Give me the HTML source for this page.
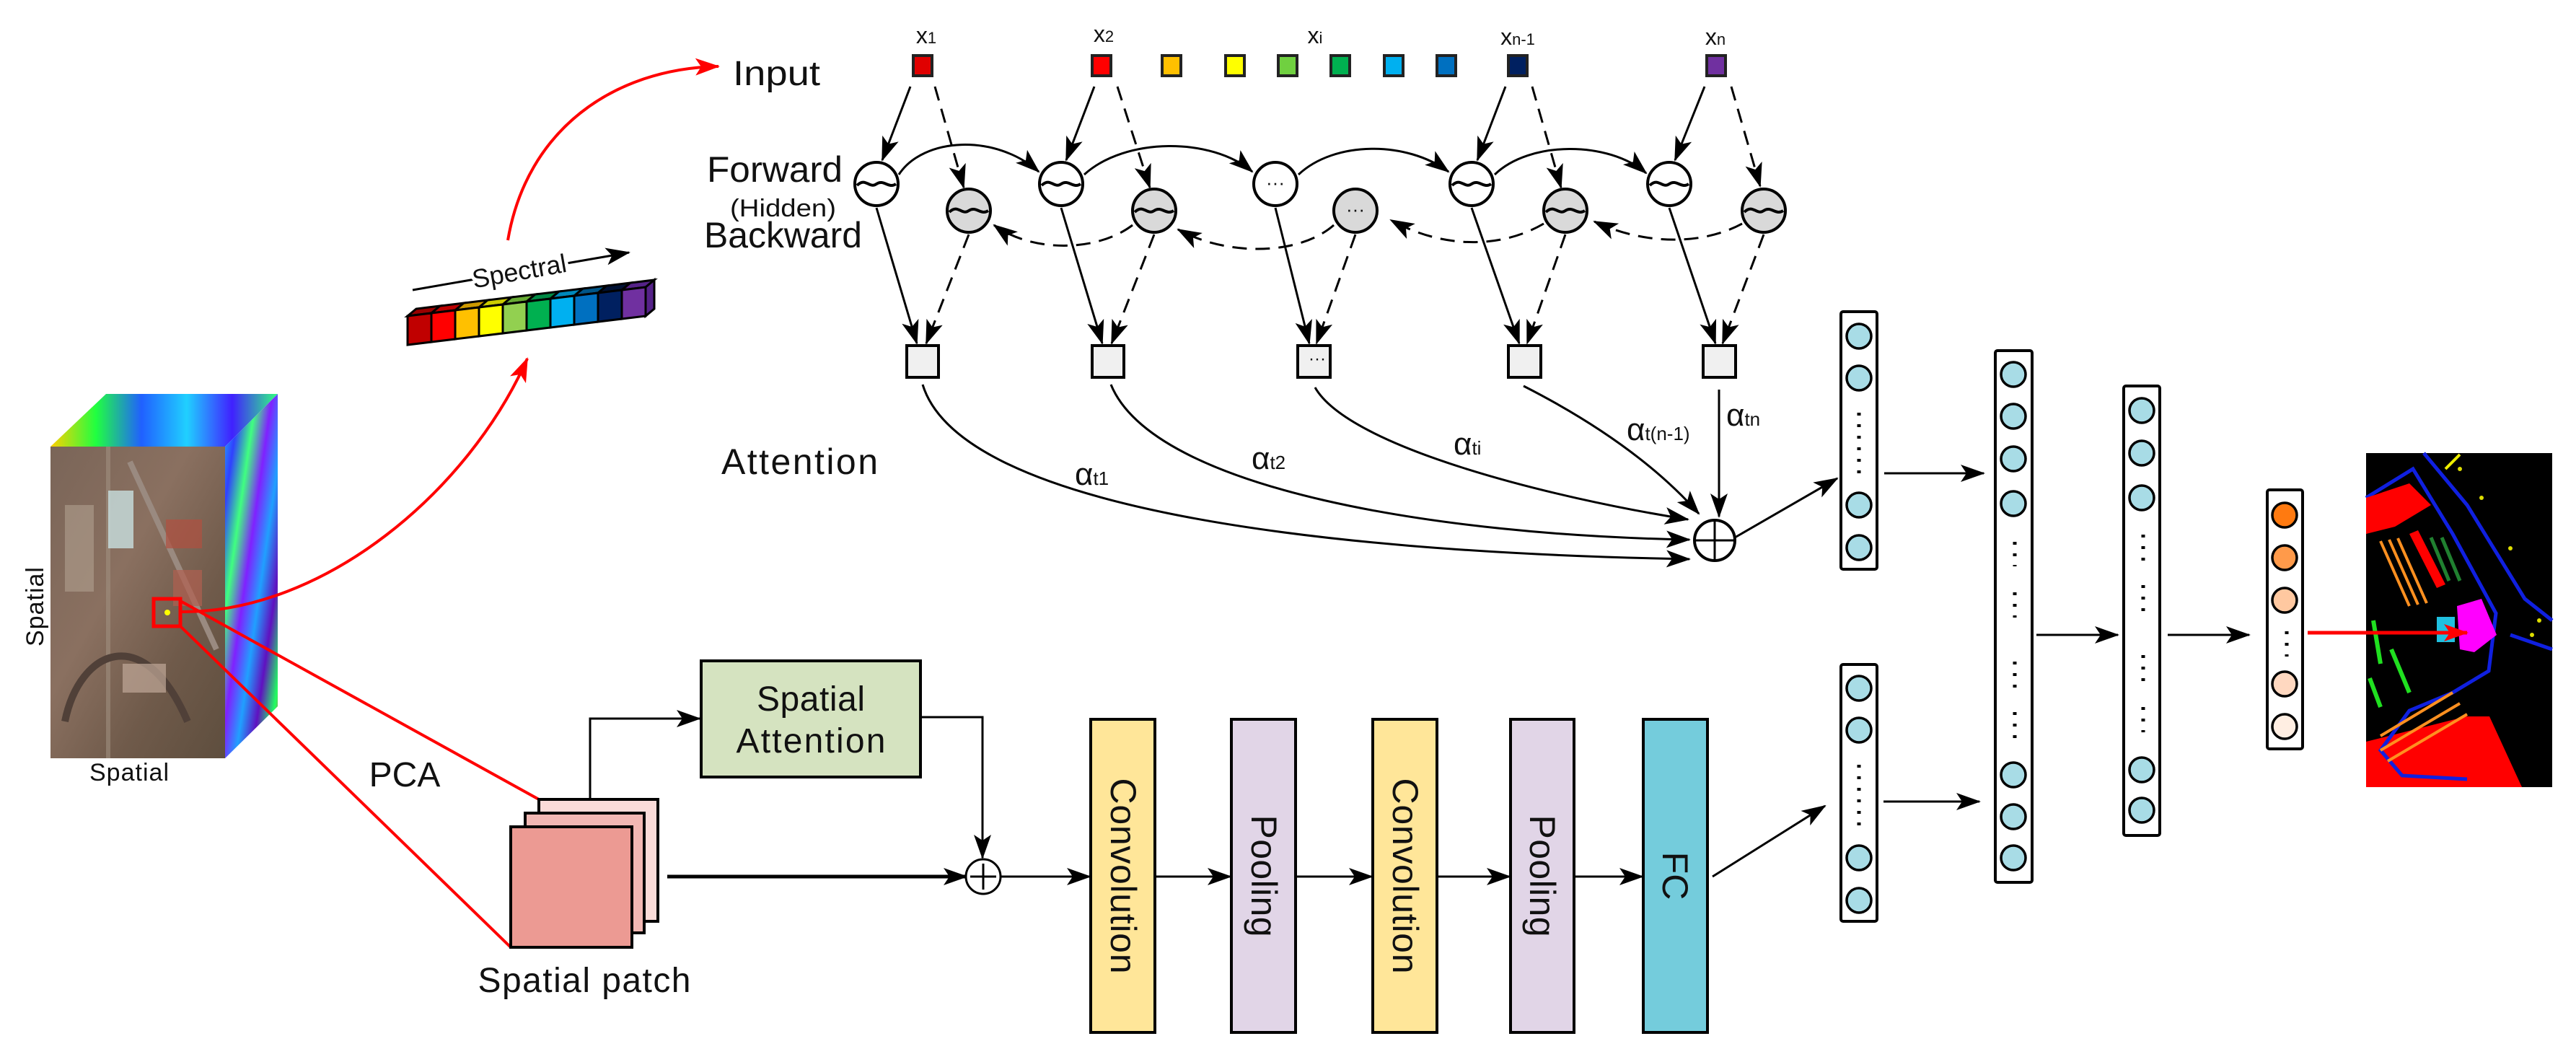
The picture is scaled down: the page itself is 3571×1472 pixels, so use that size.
<!DOCTYPE html>
<html><head><meta charset="utf-8"><style>
html,body{margin:0;padding:0;background:#fff;}
svg{display:block;}
text{font-family:"Liberation Sans",sans-serif;fill:#111;}
</style></head><body>
<svg width="3571" height="1472" viewBox="0 0 3571 1472" xmlns="http://www.w3.org/2000/svg">
<defs>
<marker id="ah" markerWidth="34" markerHeight="24" refX="32" refY="12" orient="auto" markerUnits="userSpaceOnUse"><path d="M0,0 L34,12 L0,24 L8,12 Z" fill="#000"/></marker>
<marker id="ahr" markerWidth="34" markerHeight="24" refX="32" refY="12" orient="auto" markerUnits="userSpaceOnUse"><path d="M0,0 L34,12 L0,24 L8,12 Z" fill="#f00"/></marker>
<linearGradient id="rb" x1="0" y1="0" x2="1" y2="1">
<stop offset="0" stop-color="#20c0ff"/><stop offset="0.15" stop-color="#3040ff"/><stop offset="0.3" stop-color="#40ff80"/><stop offset="0.45" stop-color="#8020ff"/><stop offset="0.6" stop-color="#20a0ff"/><stop offset="0.75" stop-color="#6010c0"/><stop offset="0.9" stop-color="#20ff60"/><stop offset="1" stop-color="#ff4040"/></linearGradient>
<linearGradient id="rb2" x1="0" y1="0" x2="1" y2="0">
<stop offset="0" stop-color="#ffd000"/><stop offset="0.2" stop-color="#20ff40"/><stop offset="0.4" stop-color="#2060ff"/><stop offset="0.6" stop-color="#20d0ff"/><stop offset="0.8" stop-color="#4020ff"/><stop offset="1" stop-color="#30ff80"/></linearGradient>
<linearGradient id="sat" x1="0" y1="0" x2="1" y2="1">
<stop offset="0" stop-color="#7a6558"/><stop offset="0.4" stop-color="#8a7060"/><stop offset="0.7" stop-color="#6f5a4a"/><stop offset="1" stop-color="#5e4e3e"/></linearGradient>
</defs>

<polygon points="70,619 147,546 385,546 312,619" fill="url(#rb2)"/>
<polygon points="312,619 385,546 385,979 312,1051" fill="url(#rb)"/>
<rect x="70" y="619" width="242" height="432" fill="url(#sat)"/>
<path d="M150,619 L150,1051" stroke="#a09080" stroke-width="6" opacity="0.6"/>
<path d="M90,1000 C110,900 200,860 260,1000" stroke="#504038" stroke-width="10" fill="none"/>
<path d="M180,640 L300,900" stroke="#9a8a80" stroke-width="8"/>
<rect x="150" y="680" width="35" height="80" fill="#c8e0e0" opacity="0.8"/>
<rect x="230" y="720" width="50" height="40" fill="#b05040" opacity="0.7"/>
<rect x="240" y="790" width="40" height="50" fill="#b06050" opacity="0.7"/>
<rect x="90" y="700" width="40" height="120" fill="#b0a090" opacity="0.6"/>
<rect x="170" y="920" width="60" height="40" fill="#c0a898" opacity="0.7"/>
<rect x="213" y="830" width="37" height="38" fill="none" stroke="#f00" stroke-width="5"/>
<circle cx="232" cy="849" r="4" fill="#ff0"/>
<text x="179" y="1082" font-size="34" text-anchor="middle" textLength="110">Spatial</text>
<text transform="translate(60,841) rotate(-90)" font-size="34" text-anchor="middle" textLength="110">Spatial</text>

<line x1="250" y1="833" x2="747" y2="1108" stroke="#f00" stroke-width="4"/>
<line x1="250" y1="868" x2="708" y2="1313" stroke="#f00" stroke-width="4"/>
<path d="M250,848 C450,850 650,680 731,497" stroke="#f00" stroke-width="4" fill="none" marker-end="url(#ahr)"/>
<path d="M704,333 C730,180 850,95 996,92" stroke="#f00" stroke-width="4" fill="none" marker-end="url(#ahr)"/>
<text x="561" y="1090" font-size="48" text-anchor="middle">PCA</text>

<g stroke="#000" stroke-width="3">
<polygon points="565,438 577,428 610,424 598,434" fill="#900"/><polygon points="565,438 598,434 598,474 565,478" fill="#c00000"/>
<polygon points="598,434 610,424 643,420 631,430" fill="#b00"/><polygon points="598,434 631,430 631,470 598,474" fill="#ff0000"/>
<polygon points="631,430 643,420 676,416 664,426" fill="#c90"/><polygon points="631,430 664,426 664,466 631,470" fill="#ffc000"/>
<polygon points="664,426 676,416 709,412 697,422" fill="#cc0"/><polygon points="664,426 697,422 697,462 664,466" fill="#ffff00"/>
<polygon points="697,422 709,412 742,408 730,418" fill="#6a3"/><polygon points="697,422 730,418 730,458 697,462" fill="#92d050"/>
<polygon points="730,418 742,408 775,404 763,414" fill="#084"/><polygon points="730,418 763,414 763,454 730,458" fill="#00b050"/>
<polygon points="763,414 775,404 808,400 796,410" fill="#08b"/><polygon points="763,414 796,410 796,450 763,454" fill="#00b0f0"/>
<polygon points="796,410 808,400 841,396 829,406" fill="#058"/><polygon points="796,410 829,406 829,446 796,450" fill="#0070c0"/>
<polygon points="829,406 841,396 874,392 862,402" fill="#013"/><polygon points="829,406 862,402 862,442 829,446" fill="#002060"/>
<polygon points="862,402 874,392 907,388 895,398" fill="#528"/><polygon points="862,402 895,398 895,438 862,442" fill="#7030a0"/>
<polygon points="895,398 907,388 907,428 895,438" fill="#528"/>
</g>
<line x1="572" y1="402" x2="872" y2="350" stroke="#000" stroke-width="3" marker-end="url(#ah)"/>
<text transform="translate(722,388) rotate(-10)" font-size="36" text-anchor="middle" stroke="#fff" stroke-width="10" paint-order="stroke">Spectral</text>

<text x="1016" y="118" font-size="48" textLength="121" lengthAdjust="spacingAndGlyphs">Input</text>
<text x="980" y="252" font-size="50" textLength="188" lengthAdjust="spacingAndGlyphs">Forward</text>
<text x="1012" y="300" font-size="34" textLength="147" lengthAdjust="spacingAndGlyphs">(Hidden)</text>
<text x="976" y="343" font-size="50" textLength="219" lengthAdjust="spacingAndGlyphs">Backward</text>
<text x="1000" y="657" font-size="50" textLength="217">Attention</text>

<g font-size="32" text-anchor="middle">
<text x="1284" y="60">x<tspan font-size="22">1</tspan></text>
<text x="1530" y="58">x<tspan font-size="22">2</tspan></text>
<text x="1823" y="60">x<tspan font-size="22">i</tspan></text>
<text x="2104" y="62">x<tspan font-size="22">n-1</tspan></text>
<text x="2378" y="62">x<tspan font-size="22">n</tspan></text>
</g>
<g stroke="#222" stroke-width="4">
<rect x="1266" y="77" width="26" height="28" fill="#e00000"/>
<rect x="1514" y="77" width="26" height="28" fill="#ff0000"/>
<rect x="1611" y="77" width="26" height="28" fill="#ffc000"/>
<rect x="1699" y="77" width="26" height="28" fill="#ffff00"/>
<rect x="1772" y="77" width="26" height="28" fill="#70d040"/>
<rect x="1845" y="77" width="26" height="28" fill="#00b050"/>
<rect x="1919" y="77" width="26" height="28" fill="#00b0f0"/>
<rect x="1992" y="77" width="26" height="28" fill="#0070c0"/>
<rect x="2091" y="77" width="26" height="28" fill="#002060"/>
<rect x="2366" y="77" width="26" height="28" fill="#7030a0"/>
</g>

<g stroke="#000" stroke-width="3" fill="none">
<line x1="1262" y1="120" x2="1223" y2="222" marker-end="url(#ah)"/>
<line x1="1296" y1="120" x2="1336" y2="260" stroke-dasharray="20,12" marker-end="url(#ah)"/>
<line x1="1517" y1="120" x2="1478" y2="222" marker-end="url(#ah)"/>
<line x1="1549" y1="120" x2="1594" y2="260" stroke-dasharray="20,12" marker-end="url(#ah)"/>
<line x1="2087" y1="120" x2="2048" y2="222" marker-end="url(#ah)"/>
<line x1="2124" y1="120" x2="2164" y2="260" stroke-dasharray="20,12" marker-end="url(#ah)"/>
<line x1="2363" y1="120" x2="2322" y2="222" marker-end="url(#ah)"/>
<line x1="2400" y1="120" x2="2440" y2="258" stroke-dasharray="20,12" marker-end="url(#ah)"/>
<path d="M1246,242 C1280,190 1380,185 1440,238" marker-end="url(#ah)"/>
<path d="M1503,242 C1560,190 1680,190 1736,238" marker-end="url(#ah)"/>
<path d="M1800,242 C1850,195 1950,195 2008,238" marker-end="url(#ah)"/>
<path d="M2072,242 C2120,195 2230,195 2282,240" marker-end="url(#ah)"/>
<g stroke-dasharray="20,12">
<path d="M1570,312 C1520,350 1430,350 1378,312" marker-end="url(#ah)"/>
<path d="M1849,312 C1800,355 1700,355 1633,318" marker-end="url(#ah)"/>
<path d="M2140,310 C2080,345 2000,345 1928,305" marker-end="url(#ah)"/>
<path d="M2415,310 C2360,340 2280,340 2210,307" marker-end="url(#ah)"/>
</g>
<line x1="1215" y1="288" x2="1271" y2="476" marker-end="url(#ah)"/>
<line x1="1343" y1="325" x2="1284" y2="476" stroke-dasharray="20,12" marker-end="url(#ah)"/>
<line x1="1471" y1="288" x2="1528" y2="476" marker-end="url(#ah)"/>
<line x1="1600" y1="325" x2="1541" y2="476" stroke-dasharray="20,12" marker-end="url(#ah)"/>
<line x1="1768" y1="288" x2="1815" y2="476" marker-end="url(#ah)"/>
<line x1="1879" y1="325" x2="1825" y2="476" stroke-dasharray="20,12" marker-end="url(#ah)"/>
<line x1="2040" y1="288" x2="2106" y2="476" marker-end="url(#ah)"/>
<line x1="2170" y1="325" x2="2117" y2="476" stroke-dasharray="20,12" marker-end="url(#ah)"/>
<line x1="2314" y1="288" x2="2378" y2="476" marker-end="url(#ah)"/>
<line x1="2445" y1="325" x2="2388" y2="476" stroke-dasharray="20,12" marker-end="url(#ah)"/>
</g>
<g stroke="#000" stroke-width="4">
<circle cx="1215" cy="255" r="30" fill="#fff"/><circle cx="1471" cy="255" r="30" fill="#fff"/><circle cx="1768" cy="255" r="30" fill="#fff"/><circle cx="2040" cy="255" r="30" fill="#fff"/><circle cx="2314" cy="255" r="30" fill="#fff"/>
<circle cx="1343" cy="292" r="30" fill="#d9d9d9"/><circle cx="1600" cy="292" r="30" fill="#d9d9d9"/><circle cx="1879" cy="292" r="30" fill="#d9d9d9"/><circle cx="2170" cy="292" r="30" fill="#d9d9d9"/><circle cx="2445" cy="292" r="30" fill="#d9d9d9"/>
</g>
<g stroke="#000" stroke-width="4" fill="none">
<path d="M1188,257 C1200,245 1205,262 1215,255 C1225,248 1232,262 1242,255"/>
<path d="M1444,257 C1456,245 1461,262 1471,255 C1481,248 1488,262 1498,255"/>
<path d="M2013,257 C2025,245 2030,262 2040,255 C2050,248 2057,262 2067,255"/>
<path d="M2287,257 C2299,245 2304,262 2314,255 C2324,248 2331,262 2341,255"/>
<path d="M1316,294 C1328,282 1333,299 1343,292 C1353,285 1360,299 1370,292"/>
<path d="M1573,294 C1585,282 1590,299 1600,292 C1610,285 1617,299 1627,292"/>
<path d="M2143,294 C2155,282 2160,299 2170,292 C2180,285 2187,299 2197,292"/>
<path d="M2418,294 C2430,282 2435,299 2445,292 C2455,285 2462,299 2472,292"/>
</g>
<text x="1768" y="262" font-size="26" text-anchor="middle">···</text>
<text x="1879" y="299" font-size="26" text-anchor="middle">···</text>

<g stroke="#000" stroke-width="4" fill="#f0f0f0">
<rect x="1257" y="479" width="44" height="44"/><rect x="1514" y="479" width="44" height="44"/><rect x="1799" y="479" width="45" height="44"/><rect x="2091" y="479" width="45" height="44"/><rect x="2361" y="479" width="45" height="44"/>
</g>
<text x="1826" y="505" font-size="24" text-anchor="middle">···</text>

<g stroke="#000" stroke-width="3" fill="none">
<path d="M1279,533 C1330,700 1800,765 2342,775" marker-end="url(#ah)"/>
<path d="M1540,533 C1600,680 2000,742 2342,748" marker-end="url(#ah)"/>
<path d="M1823,537 C1870,620 2150,690 2340,720" marker-end="url(#ah)"/>
<path d="M2112,535 C2220,590 2300,650 2355,712" marker-end="url(#ah)"/>
<line x1="2383" y1="540" x2="2383" y2="716" marker-end="url(#ah)"/>
</g>
<g font-size="44" fill="#111">
<text x="1490" y="672">α<tspan font-size="26">t1</tspan></text>
<text x="1735" y="650">α<tspan font-size="26">t2</tspan></text>
<text x="2015" y="630">α<tspan font-size="26">ti</tspan></text>
<text x="2255" y="610">α<tspan font-size="26">t(n-1)</tspan></text>
<text x="2393" y="590">α<tspan font-size="26">tn</tspan></text>
</g>
<circle cx="2377" cy="749" r="28" fill="#fff" stroke="#000" stroke-width="4"/>
<path d="M2349,749 H2405 M2377,721 V777" stroke="#000" stroke-width="3"/>
<line x1="2405" y1="745" x2="2547" y2="663" stroke="#000" stroke-width="3" marker-end="url(#ah)"/>

<rect x="747" y="1108" width="165" height="169" fill="#fadbd8" stroke="#000" stroke-width="4"/>
<rect x="728" y="1127" width="165" height="166" fill="#f2b8b4" stroke="#000" stroke-width="4"/>
<rect x="708" y="1146" width="168" height="167" fill="#ec9a93" stroke="#000" stroke-width="4"/>
<text x="810" y="1375" font-size="48" text-anchor="middle" textLength="295">Spatial patch</text>
<rect x="972" y="916" width="304" height="161" fill="#d5e3c0" stroke="#000" stroke-width="4"/>
<text x="1124" y="985" font-size="48" text-anchor="middle" textLength="150">Spatial</text>
<text x="1124" y="1043" font-size="48" text-anchor="middle" textLength="207">Attention</text>
<g stroke="#000" stroke-width="3" fill="none">
<polyline points="818,1107 818,996 970,996" marker-end="url(#ah)"/>
<polyline points="1276,994 1362,994 1362,1189" marker-end="url(#ah)"/>
<line x1="925" y1="1215" x2="1340" y2="1215" stroke-width="5" marker-end="url(#ah)"/>
<line x1="1388" y1="1215" x2="1511" y2="1215" marker-end="url(#ah)"/>
<line x1="1601" y1="1215" x2="1706" y2="1215" marker-end="url(#ah)"/>
<line x1="1796" y1="1215" x2="1902" y2="1215" marker-end="url(#ah)"/>
<line x1="1992" y1="1215" x2="2093" y2="1215" marker-end="url(#ah)"/>
<line x1="2182" y1="1215" x2="2277" y2="1215" marker-end="url(#ah)"/>
<line x1="2374" y1="1215" x2="2530" y2="1117" marker-end="url(#ah)"/>
</g>
<circle cx="1363" cy="1215" r="24" fill="#fff" stroke="#000" stroke-width="3"/>
<path d="M1345,1215 H1381 M1363,1197 V1233" stroke="#000" stroke-width="3"/>

<g stroke="#000" stroke-width="4">
<rect x="1512" y="997" width="89" height="434" fill="#ffe699"/>
<rect x="1707" y="997" width="89" height="434" fill="#e1d5e7"/>
<rect x="1903" y="997" width="89" height="434" fill="#ffe699"/>
<rect x="2094" y="997" width="88" height="434" fill="#e1d5e7"/>
<rect x="2278" y="997" width="89" height="434" fill="#74ccdc"/>
</g>
<g font-size="50" text-anchor="middle">
<text transform="translate(1540,1214) rotate(90)" textLength="271">Convolution</text>
<text transform="translate(1735,1214) rotate(90)" textLength="169">Pooling</text>
<text transform="translate(1931,1214) rotate(90)" textLength="271">Convolution</text>
<text transform="translate(2121,1214) rotate(90)" textLength="169">Pooling</text>
<text transform="translate(2305,1214) rotate(90)">FC</text>
</g>

<g stroke="#000" stroke-width="4" fill="#fff">
<rect x="2552" y="432" width="50" height="357" rx="3"/>
<rect x="2552" y="921" width="50" height="356" rx="3"/>
<rect x="2766" y="486" width="51" height="737" rx="3"/>
<rect x="2944" y="535" width="50" height="623" rx="3"/>
<rect x="3143" y="679" width="49" height="359" rx="3"/>
</g>
<g stroke="#000" stroke-width="3.5" fill="#a8dce6">
<circle cx="2577" cy="466" r="17"/><circle cx="2577" cy="524" r="17"/><circle cx="2577" cy="700" r="17"/><circle cx="2577" cy="759" r="17"/>
<circle cx="2577" cy="954" r="17"/><circle cx="2577" cy="1012" r="17"/><circle cx="2577" cy="1189" r="17"/><circle cx="2577" cy="1248" r="17"/>
<circle cx="2791" cy="519" r="17"/><circle cx="2791" cy="577" r="17"/><circle cx="2791" cy="636" r="17"/><circle cx="2791" cy="698" r="17"/><circle cx="2791" cy="1074" r="17"/><circle cx="2791" cy="1132" r="17"/><circle cx="2791" cy="1189" r="17"/>
<circle cx="2969" cy="569" r="17"/><circle cx="2969" cy="628" r="17"/><circle cx="2969" cy="690" r="17"/><circle cx="2969" cy="1067" r="17"/><circle cx="2969" cy="1123" r="17"/>
</g>
<g stroke="#000" stroke-width="3.5">
<circle cx="3167" cy="714" r="17" fill="#ff7a10"/><circle cx="3167" cy="773" r="17" fill="#ff9a4a"/><circle cx="3167" cy="832" r="17" fill="#ffc8a0"/><circle cx="3167" cy="948" r="17" fill="#ffd8c0"/><circle cx="3167" cy="1007" r="17" fill="#ffeee2"/>
</g>
<g stroke="#000" stroke-width="5" stroke-dasharray="4,12" fill="none">
<line x1="2577" y1="572" x2="2577" y2="660"/>
<line x1="2577" y1="1060" x2="2577" y2="1150"/>
<line x1="2793" y1="751" x2="2793" y2="785"/><line x1="2793" y1="821" x2="2793" y2="856"/><line x1="2793" y1="917" x2="2793" y2="954"/><line x1="2793" y1="987" x2="2793" y2="1026"/>
<line x1="2971" y1="741" x2="2971" y2="778"/><line x1="2971" y1="811" x2="2971" y2="848"/><line x1="2971" y1="908" x2="2971" y2="944"/><line x1="2971" y1="980" x2="2971" y2="1015"/>
<line x1="3170" y1="875" x2="3170" y2="910"/>
</g>
<g stroke="#000" stroke-width="3">
<line x1="2612" y1="656" x2="2750" y2="656" marker-end="url(#ah)"/>
<line x1="2611" y1="1111" x2="2744" y2="1111" marker-end="url(#ah)"/>
<line x1="2823" y1="880" x2="2936" y2="880" marker-end="url(#ah)"/>
<line x1="3005" y1="880" x2="3118" y2="880" marker-end="url(#ah)"/>
</g>

<rect x="3280" y="628" width="258" height="463" fill="#000"/>
<polygon points="3280,1028 3419,993 3451,993 3496,1091 3280,1091" fill="#f00"/>
<g stroke="#1020e0" stroke-width="5" fill="none">
<path d="M3360,628 L3420,700 L3500,830 L3538,860"/>
<path d="M3280,690 L3345,650 L3400,740 L3460,850 L3450,930 L3400,960 L3340,985 L3300,1040 L3330,1075 L3420,1080"/>
<path d="M3480,880 L3538,900"/>
</g>
<polygon points="3280,690 3340,670 3370,700 3320,730 3280,740" fill="#f00"/>
<polygon points="3340,740 3352,735 3390,810 3378,815" fill="#f00"/>
<g stroke="#ff9020" stroke-width="4">
<line x1="3300" y1="750" x2="3340" y2="840"/><line x1="3312" y1="748" x2="3352" y2="838"/><line x1="3324" y1="746" x2="3364" y2="836"/>
<line x1="3300" y1="1020" x2="3400" y2="960"/><line x1="3300" y1="1040" x2="3410" y2="975"/><line x1="3310" y1="1055" x2="3420" y2="990"/>
</g>
<g stroke="#208030" stroke-width="5"><line x1="3370" y1="745" x2="3395" y2="805"/><line x1="3385" y1="745" x2="3410" y2="805"/></g>
<polygon points="3406,840 3440,830 3461,880 3430,904 3410,900" fill="#f0f"/>
<rect x="3378" y="855" width="25" height="35" fill="#20c0e0"/>
<g stroke="#20e020" stroke-width="6"><line x1="3290" y1="860" x2="3300" y2="920"/><line x1="3315" y1="900" x2="3340" y2="960"/><line x1="3285" y1="940" x2="3300" y2="980"/></g>
<g fill="#dd0" stroke="none"><circle cx="3410" cy="650" r="3"/><circle cx="3440" cy="690" r="3"/><circle cx="3480" cy="760" r="3"/><circle cx="3510" cy="880" r="3"/><circle cx="3520" cy="860" r="3"/></g>
<path d="M3390,650 L3410,630" stroke="#ee0" stroke-width="4"/>
<line x1="3199" y1="877" x2="3420" y2="877" stroke="#f00" stroke-width="5" marker-end="url(#ahr)"/>
</svg>
</body></html>
